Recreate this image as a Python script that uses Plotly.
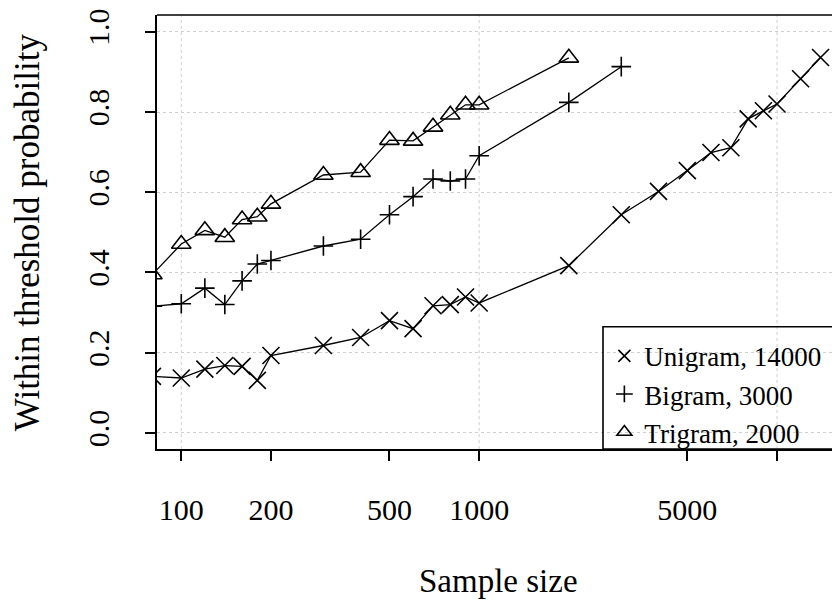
import plotly.graph_objects as go

# Sample sizes
sizes_uni = [80, 100, 120, 140, 160, 180, 200, 300, 400, 500, 600, 700, 800, 900, 1000,
             2000, 3000, 4000, 5000, 6000, 7000, 8000, 9000, 10000, 12000, 14000]
sizes_bi = [80, 100, 120, 140, 160, 180, 200, 300, 400, 500, 600, 700, 800, 900, 1000,
            2000, 3000]
sizes_tri = [80, 100, 120, 140, 160, 180, 200, 300, 400, 500, 600, 700, 800, 900, 1000,
             2000]

# Within threshold probability
prob_uni = [0.141, 0.137, 0.159, 0.168, 0.166, 0.131, 0.193, 0.218, 0.238, 0.280, 0.260,
            0.317, 0.320, 0.339, 0.324, 0.417, 0.544, 0.602, 0.654, 0.699, 0.711, 0.783,
            0.803, 0.820, 0.883, 0.936]
prob_bi = [0.316, 0.322, 0.361, 0.320, 0.379, 0.421, 0.430, 0.466, 0.483, 0.544, 0.589,
           0.633, 0.628, 0.633, 0.691, 0.824, 0.913]
prob_tri = [0.395, 0.471, 0.505, 0.488, 0.532, 0.539, 0.571, 0.643, 0.650, 0.730, 0.728,
            0.763, 0.793, 0.818, 0.818, 0.935]

labels = ["Unigram, 14000", "Bigram, 3000", "Trigram, 2000"]

x_tickvals = [100, 200, 500, 1000, 5000, 10000]
x_ticktext = ["100", "200", "500", "1000", "5000", ""]
x_gridvals = [100, 1000, 10000]
y_tickvals = [0.0, 0.2, 0.4, 0.6, 0.8, 1.0]
y_ticktext = ["0.0", "0.2", "0.4", "0.6", "0.8", "1.0"]

FONT = "Liberation Serif"

fig = go.Figure()

series = [
    (sizes_uni, prob_uni, "x-thin", 17, 12),
    (sizes_bi, prob_bi, "cross-thin", 14, 12),
    (sizes_tri, prob_tri, "triangle-up-open", 17, 13),
]

for (xs, ys, sym, msize, lsize), name in zip(series, labels):
    fig.add_trace(go.Scatter(
        x=xs, y=ys, mode="lines+markers", name=name, showlegend=False,
        line=dict(color="black", width=1.3),
        marker=dict(symbol=sym, size=msize, color="black",
                    line=dict(color="black", width=1.6)),
        cliponaxis=True,
    ))

for (xs, ys, sym, msize, lsize), name in zip(series, labels):
    fig.add_trace(go.Scatter(
        x=[None], y=[None], mode="markers", name=name, showlegend=True,
        marker=dict(symbol=sym, size=lsize, color="black",
                    line=dict(color="black", width=1.6)),
    ))

# vertical dotted grid at decades
for gv in x_gridvals:
    fig.add_shape(type="line", xref="x", yref="paper", x0=gv, x1=gv, y0=0, y1=1,
                  line=dict(color="#cfcfcf", width=1, dash="dot"), layer="below")

# top border of the box
fig.add_shape(type="line", xref="paper", yref="paper", x0=0, x1=1, y0=1, y1=1,
              line=dict(color="black", width=1.6))

# legend frame running off the right edge (as in the reference)
fig.add_shape(type="rect", xref="paper", yref="paper", x0=0.653, x1=1.05,
              y0=0, y1=0.2816, line=dict(color="black", width=1.6),
              fillcolor="rgba(0,0,0,0)", layer="above")

fig.update_layout(
    width=832, height=592,
    margin=dict(l=149, r=0, t=7, b=151),
    paper_bgcolor="white", plot_bgcolor="white",
    font=dict(family=FONT, color="black", size=30),
    showlegend=True,
    legend=dict(
        x=0.655, y=0.27, xanchor="left", yanchor="top",
        bgcolor="rgba(0,0,0,0)", borderwidth=0,
        font=dict(family=FONT, size=27, color="black"),
        itemsizing="trace",
    ),
    xaxis=dict(
        type="log", range=[1.9185, 4.2114],
        tickvals=x_tickvals, ticktext=x_ticktext,
        showgrid=False, zeroline=False,
        showline=True, linecolor="black", linewidth=1.6,
        ticks="outside", ticklen=10, tickwidth=1.6, tickcolor="black",
        tickfont=dict(family=FONT, size=30, color="black"),
        ticklabelstandoff=23,
    ),
    yaxis=dict(
        range=[-0.04, 1.0418],
        tickvals=y_tickvals, ticktext=y_ticktext,
        showgrid=True, gridcolor="#cfcfcf", griddash="dot", gridwidth=1,
        zeroline=False,
        showline=True, linecolor="black", linewidth=1.6,
        ticks="outside", ticklen=10, tickwidth=1.6, tickcolor="black",
        tickangle=-90,
        tickfont=dict(family=FONT, size=30, color="black"),
        ticklabelstandoff=24,
    ),
    annotations=[
        dict(text="Sample size", xref="paper", yref="paper", x=0.5, y=-0.305,
             xanchor="center", yanchor="middle", showarrow=False,
             font=dict(family=FONT, size=33, color="black")),
        dict(text="Within threshold probability", xref="paper", yref="paper",
             x=-0.19, y=0.5, xanchor="center", yanchor="middle", textangle=-90,
             showarrow=False, font=dict(family=FONT, size=35, color="black")),
    ],
)

fig.write_html("out.html")
